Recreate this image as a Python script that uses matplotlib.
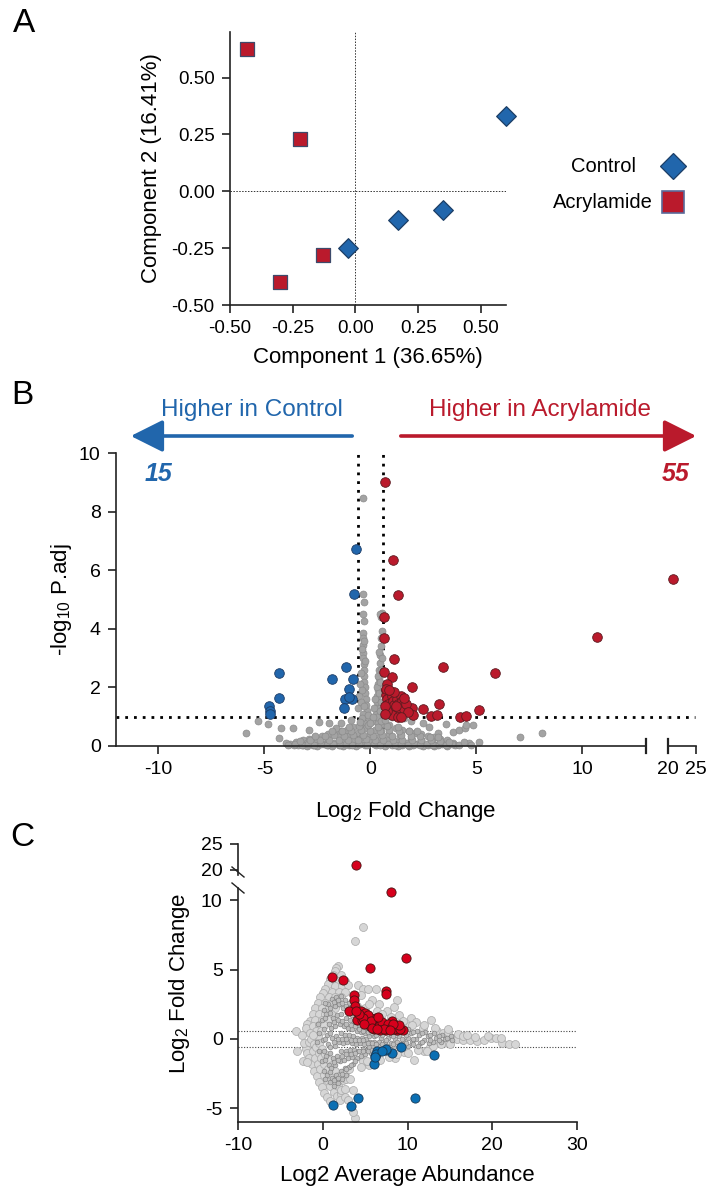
# PCA, volcano and MA plot (acrylamide vs control)
import matplotlib
matplotlib.use('Agg')
import matplotlib.pyplot as plt
from matplotlib.patches import FancyArrowPatch
from matplotlib.lines import Line2D

plt.rcParams['font.family'] = ['Liberation Sans', 'DejaVu Sans']
plt.rcParams['mathtext.fontset'] = 'custom'
plt.rcParams['mathtext.rm'] = 'Liberation Sans'
plt.rcParams['mathtext.it'] = 'Liberation Sans:italic'
plt.rcParams['axes.unicode_minus'] = False

# ---- panel A : PCA scores ----
control_pc1 = [0.60, 0.348, 0.17, -0.031]
control_pc2 = [0.331, -0.081, -0.125, -0.25]
acryl_pc1 = [-0.431, -0.221, -0.130, -0.30]
acryl_pc2 = [0.625, 0.228, -0.279, -0.40]
pca_ticks = [-0.50, -0.25, 0.00, 0.25, 0.50]

# ---- panel B : volcano (log2 FC, -log10 p.adj) ----
volc_up = [(0.71, 9.0), (1.05, 6.35), (1.29, 5.17), (0.66, 4.41), (0.65, 3.69), (1.13, 2.97),
           (3.41, 2.69), (0.65, 2.51), (1.0, 2.35), (1.95, 2.03), (0.74, 1.92), (1.95, 1.29),
           (2.47, 1.26), (3.25, 1.44), (2.86, 1.03), (3.13, 1.06), (2.0, 1.06), (4.23, 1.0),
           (4.51, 1.03), (5.1, 1.23), (5.88, 2.49), (10.7, 3.73), (20.9, 5.7),
           (0.75, 1.75), (0.8, 1.6), (0.85, 1.45), (0.9, 1.3), (0.95, 1.15), (1.0, 1.7),
           (1.05, 1.55), (1.1, 1.4), (1.15, 1.25), (1.2, 1.1), (1.25, 1.6), (1.3, 1.45),
           (1.35, 1.3), (1.4, 1.15), (1.45, 1.7), (1.5, 1.55), (1.55, 1.4), (1.6, 1.25),
           (1.0, 1.05), (0.78, 2.1), (0.72, 1.95), (0.8, 1.2), (1.7, 1.45), (1.75, 1.15),
           (1.1, 1.85), (0.7, 1.35), (0.68, 1.1), (1.3, 1.0), (1.6, 1.65), (0.9, 1.9),
           (1.2, 1.35), (1.45, 1.0)]
volc_down = [(-0.68, 6.71), (-0.79, 5.19), (-4.29, 2.49), (-4.29, 1.63), (-4.8, 1.36),
             (-4.75, 1.18), (-4.75, 1.08), (-1.81, 2.29), (-1.15, 2.69), (-0.83, 2.29),
             (-1.02, 1.94), (-1.18, 1.61), (-0.86, 1.61), (-1.23, 1.29), (-1.0, 1.66)]
volc_ns = [(-0.36, 8.48), (-0.36, 5.19), (-0.32, 4.91), (-0.34, 4.5), (-0.32, 4.26), (0.53, 4.54),
           (0.50, 4.40), (0.45, 4.5), (-0.33, 3.87), (-0.33, 3.69), (-0.33, 3.46), (-0.34, 3.17),
           (-0.35, 3.0), (-0.30, 2.8), (-0.32, 2.6), (-0.28, 2.4), (-0.30, 2.2), (-0.26, 2.0),
           (-0.25, 1.8), (-0.2, 1.6), (-0.22, 1.4), (-0.18, 1.2), (-0.15, 1.0), (0.53, 3.92),
           (0.5, 3.7), (0.48, 3.4), (0.46, 3.1), (0.46, 2.83), (0.42, 2.6), (0.42, 2.32),
           (0.38, 2.1), (0.36, 1.9), (0.33, 1.7), (0.3, 1.5), (0.28, 1.3), (0.25, 1.1), (0.2, 0.95),
           (-0.1, 0.9), (0.1, 0.85), (-0.3, 0.8), (0.35, 0.8), (-0.5, 0.7), (0.6, 0.75), (-0.8, 0.65),
           (0.9, 0.7), (-1.1, 0.55), (1.2, 0.6), (-1.4, 0.5), (1.5, 0.55), (-1.7, 0.45), (1.8, 0.5),
           (-2.0, 0.4), (2.1, 0.45), (-2.3, 0.35), (2.4, 0.4), (-2.6, 0.3), (2.7, 0.35), (-2.9, 0.25),
           (3.0, 0.3), (-3.2, 0.2), (3.3, 0.25), (-3.5, 0.15), (3.6, 0.2), (-3.8, 0.08), (3.9, 0.1),
           (-0.2, 0.6), (0.2, 0.55), (-0.6, 0.45), (0.5, 0.5), (-1.0, 0.35), (0.9, 0.4), (-1.5, 0.3),
           (1.4, 0.35), (-2.0, 0.2), (1.9, 0.25), (-2.5, 0.15), (2.4, 0.2), (-3.0, 0.1), (2.9, 0.12),
           (-3.4, 0.05), (3.4, 0.06), (0.0, 0.4), (-0.4, 0.3), (0.4, 0.3), (-0.8, 0.2), (0.8, 0.2),
           (-1.2, 0.15), (1.2, 0.15), (-1.7, 0.1), (1.7, 0.1), (-2.2, 0.06), (2.2, 0.06),
           (-2.7, 0.04), (2.7, 0.04), (-3.2, 0.02), (3.2, 0.02), (0.0, 0.15), (-0.5, 0.08),
           (0.5, 0.08), (-1.0, 0.05), (1.0, 0.05), (-1.5, 0.03), (1.5, 0.03), (-2.0, 0.02),
           (2.0, 0.02), (-0.25, 0.02), (0.25, 0.02), (0.7, 0.01), (-0.7, 0.01), (1.3, 0.0),
           (-1.3, 0.0), (1.8, 0.0), (-1.8, 0.0), (2.5, 0.0), (-2.5, 0.0), (3.0, 0.0), (-3.0, 0.0),
           (3.6, 0.0), (-3.6, 0.02), (4.0, 0.05), (-5.86, 0.45), (-5.3, 0.86), (-4.84, 0.75),
           (-4.21, 0.62), (-4.29, 0.28), (-3.66, 0.6), (-2.9, 0.56), (-2.42, 0.81), (-1.97, 0.79),
           (-1.6, 0.62), (-1.38, 0.78), (-4.0, 0.1), (2.78, 0.66), (3.2, 0.45), (3.57, 0.75),
           (3.88, 0.49), (4.2, 0.55), (4.48, 0.6), (4.51, 0.7), (4.85, 0.72), (4.67, 0.1),
           (4.75, 0.05), (5.14, 0.12), (7.08, 0.3), (8.08, 0.46), (2.5, 0.8), (1.9, 0.85),
           (1.6, 0.95), (1.0, 0.98), (-0.9, 0.9),
           # arms of the central column
           (-0.45, 2.5), (-0.5, 2.1), (-0.55, 1.7), (-0.6, 1.3), (-0.4, 1.9), (-0.45, 1.5),
           (-0.35, 1.1), (-0.3, 1.35), (-0.4, 0.95), (-0.12, 1.05), (-0.25, 2.9), (-0.4, 3.3),
           (-0.28, 3.6), (0.35, 2.4), (0.3, 2.0), (0.22, 1.6), (0.18, 1.3), (0.4, 1.8), (0.45, 2.2),
           (0.5, 2.6), (0.55, 3.0), (0.5, 1.5), (0.45, 1.2), (0.4, 3.2), (0.3, 1.0), (0.1, 1.0),
           # dense base of the cloud
           (-3.9, 0.04), (-3.55, 0.07), (-3.25, 0.05), (-2.95, 0.06), (-2.65, 0.05), (-2.35, 0.07),
           (-2.05, 0.05), (-1.75, 0.06), (-1.45, 0.05), (-1.15, 0.07), (-0.85, 0.05), (-0.55, 0.06),
           (-0.15, 0.05), (0.15, 0.07), (0.45, 0.05), (0.85, 0.06), (1.15, 0.05), (1.45, 0.07),
           (1.75, 0.05), (2.05, 0.06), (2.35, 0.05), (2.65, 0.07), (2.95, 0.05), (3.25, 0.06),
           (3.55, 0.05), (3.85, 0.07), (4.2, 0.04), (4.4, 0.12),
           (-3.3, 0.18), (-2.85, 0.2), (-2.4, 0.22), (-1.95, 0.19), (-1.5, 0.2), (-1.05, 0.22),
           (-0.6, 0.2), (-0.2, 0.23), (0.2, 0.2), (0.6, 0.22), (1.05, 0.2), (1.5, 0.22),
           (1.95, 0.19), (2.4, 0.21), (2.85, 0.2), (3.3, 0.18), (3.7, 0.15),
           (-2.6, 0.34), (-2.15, 0.33), (-1.7, 0.36), (-1.25, 0.34), (-0.8, 0.36), (-0.35, 0.38),
           (0.1, 0.35), (0.55, 0.37), (1.0, 0.34), (1.45, 0.36), (1.9, 0.33), (2.35, 0.35),
           (2.8, 0.32), (3.2, 0.3),
           (-1.8, 0.5), (-1.35, 0.52), (-0.9, 0.5), (-0.45, 0.54), (0.0, 0.52), (0.45, 0.5),
           (0.9, 0.53), (1.35, 0.5), (1.8, 0.52), (2.2, 0.5),
           (-1.0, 0.66), (-0.55, 0.68), (-0.1, 0.7), (0.35, 0.66), (0.8, 0.68), (1.3, 0.66),
           (-0.5, 0.82), (0.0, 0.8), (0.5, 0.84), (0.7, 0.9)]
fc_cut = 0.585
p_cut = 1.0

# ---- panel C : MA plot (log2 abundance, log2 FC) ----
ma_up = [(3.95, 20.9), (8.05, 10.64), (9.79, 5.88), (5.53, 5.12), (1.1, 4.47), (2.41, 4.23),
         (7.5, 3.43), (7.45, 3.28), (3.67, 3.19), (3.67, 2.83), (3.79, 2.4), (3.08, 2.04),
         (4.54, 1.99), (4.07, 1.39), (4.66, 1.39), (5.45, 1.58), (6.24, 1.51), (6.43, 1.27),
         (5.57, 0.96), (6.04, 0.72), (6.75, 0.79), (7.5, 0.67), (8.21, 1.27), (8.6, 1.03),
         (8.8, 0.67), (9.51, 0.67), (7.81, 0.91), (6.83, 1.1), (7.3, 0.96), (6.24, 1.34),
         (5.96, 1.44), (5.0, 1.9), (5.3, 1.7), (5.9, 1.2), (6.1, 0.95), (6.6, 0.9), (7.0, 1.2),
         (7.7, 1.1), (8.0, 0.8), (8.4, 0.7), (9.1, 0.7), (9.0, 1.0), (5.2, 1.2), (4.8, 1.5),
         (6.8, 0.65), (7.2, 0.7), (5.7, 1.3), (4.3, 1.8), (3.9, 2.0), (6.5, 1.6), (8.3, 1.1),
         (4.9, 1.1), (5.8, 0.8), (6.4, 0.7), (7.9, 0.65)]
ma_down = [(1.19, -4.76), (3.28, -4.81), (4.15, -4.3), (10.85, -4.26), (13.14, -1.13),
           (9.27, -0.6), (8.21, -1.01), (7.42, -0.77), (6.43, -0.89), (6.12, -1.2), (6.04, -1.78),
           (6.3, -1.1), (7.46, -0.7), (6.2, -1.3), (7.0, -0.85)]
ma_ns = [(1.8, 5.3), (1.6, 5.1), (1.4, 4.9), (1.2, 4.6), (0.9, 4.3), (0.6, 4.0), (0.3, 3.6),
         (0.0, 3.3), (-0.3, 3.0), (-0.6, 2.6), (-0.9, 2.2), (-1.2, 1.8), (-1.5, 1.3), (-1.8, 1.1),
         (-2.0, 0.8), (2.2, 4.6), (1.9, 4.2), (1.5, 3.8), (1.1, 3.4), (0.7, 3.0), (0.3, 2.6),
         (-0.1, 2.2), (-0.5, 1.8), (-0.9, 1.4), (-1.2, 0.9), (-2.0, -0.7), (-1.8, -1.0),
         (-1.6, -1.4), (-1.3, -1.8), (-1.0, -2.3), (-0.7, -2.7), (-0.4, -3.1), (-0.1, -3.5),
         (0.2, -3.9), (0.5, -4.2), (0.8, -4.5), (-1.2, -0.9), (-0.9, -1.4), (-0.6, -1.8),
         (-0.3, -2.2), (0.1, -2.6), (0.5, -3.0), (0.9, -3.4), (1.3, -3.8), (1.7, -4.1), (2.1, -4.0),
         (-3.2, 0.55), (-3.0, -0.85), (-2.2, -0.3), (-2.3, -1.6), (-1.9, -1.7), (-2.4, 0.3),
         (2.4, -3.0), (2.8, -2.9), (3.2, -2.9), (3.6, -3.7), (3.8, -5.7), (3.6, -5.3), (2.0, -4.4),
         (2.6, -4.2), (3.0, -4.4), (4.8, 8.1), (3.8, 7.1), (4.2, 3.9), (4.8, 3.6), (5.3, 3.6),
         (6.3, 3.6), (4.5, 3.2), (5.8, 2.8), (8.8, 2.8), (6.6, 2.5), (7.6, 2.0), (8.4, 2.3),
         (9.0, 1.7), (10.4, 1.5), (11.0, 1.2), (12.75, 1.39), (10.2, 0.9), (11.8, 0.8),
         (4.8, -1.6), (5.5, -1.9), (6.7, -1.5), (8.5, -1.4), (9.6, -0.95), (10.77, -1.49),
         (11.9, -0.9), (12.6, -0.6), (13.5, 0.6), (14.2, 0.45), (14.8, 0.5), (15.2, 0.1),
         (15.8, 0.0), (16.5, -0.05), (17.4, -0.1), (18.2, -0.12), (19.0, -0.05), (19.8, 0.05),
         (20.5, 0.05), (21.2, -0.3), (22.0, -0.35), (22.7, -0.35), (14.5, -0.25), (13.8, -0.3),
         (16.0, 0.35),
         (2.6, 4.2), (2.3, 3.8), (1.9, 3.4), (1.5, 3.0), (1.1, 2.6), (0.7, 2.2), (0.3, 1.8),
         (-0.1, 1.4), (-0.5, 1.0), (-0.8, 0.6), (3.0, 3.9), (2.6, 3.4), (2.2, 3.0), (1.8, 2.6),
         (1.4, 2.2), (1.0, 1.8), (0.6, 1.4), (0.2, 1.0), (-0.2, 0.6), (-0.6, 0.2),
         (-1.5, 0.4), (-1.6, -0.2), (-1.4, 0.0), (-1.1, 0.3), (-1.0, -0.4),
         (-0.8, -0.6), (-0.5, -1.0), (-0.2, -1.4), (0.2, -1.8), (0.6, -2.2), (1.0, -2.6),
         (1.4, -3.0), (1.8, -3.4), (2.2, -3.7), (2.6, -3.6), (-0.4, -0.3), (-0.1, -0.7),
         (0.3, -1.1), (0.7, -1.5), (1.1, -1.9), (1.5, -2.3), (1.9, -2.7), (2.3, -2.6), (2.7, -2.3),
         (3.1, -2.2), (3.5, 2.6), (4.0, 2.4), (5.0, 2.2), (5.5, 2.5), (6.4, 2.0), (7.0, 1.8),
         (8.0, 1.6), (9.5, 1.3), (10.5, 1.0), (12.0, 1.0), (13.3, 0.8), (4.5, -2.0), (5.2, -1.6),
         (7.8, -1.3), (8.8, -1.1), (10.0, -1.0), (11.2, -0.8), (13.0, -0.5), (14.0, -0.4),
         (15.0, -0.35), (16.5, 0.2), (17.0, 0.25), (18.0, 0.15), (19.5, 0.2), (21.0, 0.1),
         (14.8, 0.7), (12.3, -0.9)]
# dense core of the MA cloud (small markers)
ma_core = [(-0.6, 1.1), (-0.4, 0.4), (-0.7, -0.2), (-0.5, -0.9),
           (0.1, 2.1), (-0.1, 1.4), (0.2, 0.7), (0.0, -0.1), (0.1, -0.9), (-0.1, -1.6), (0.2, -2.3),
           (0.6, 2.5), (0.4, 1.8), (0.7, 1.1), (0.5, 0.3), (0.6, -0.4), (0.4, -1.2), (0.7, -1.9),
           (0.5, -2.6), (0.8, -3.1), (1.1, 2.9), (0.9, 2.2), (1.2, 1.5), (1.0, 0.8), (1.1, 0.1),
           (0.9, -0.6), (1.2, -1.4), (1.0, -2.1), (1.1, -2.8), (1.3, -3.4), (1.6, 3.0), (1.4, 2.4),
           (1.7, 1.7), (1.5, 0.9), (1.6, 0.2), (1.4, -0.5), (1.7, -1.2), (1.5, -1.9), (1.6, -2.6),
           (1.8, -3.2), (2.1, 3.1), (1.9, 2.5), (2.2, 1.8), (2.0, 1.1), (2.1, 0.4), (1.9, -0.2),
           (2.2, -0.9), (2.0, -1.6), (2.1, -2.3), (2.3, -2.9), (2.6, 2.8), (2.4, 2.2), (2.7, 1.5),
           (2.5, 0.9), (2.6, 0.3), (2.4, -0.3), (2.7, -0.9), (2.5, -1.5), (2.6, -2.1), (2.8, -2.6),
           (3.1, 2.6), (2.9, 2.0), (3.2, 1.4), (3.0, 0.8), (3.1, 0.3), (2.9, -0.2), (3.2, -0.8),
           (3.0, -1.4), (3.1, -2.0), (3.6, 2.3), (3.4, 1.7), (3.7, 1.2), (3.5, 0.7), (3.6, 0.2),
           (3.4, -0.3), (3.7, -0.8), (3.5, -1.3), (3.6, -1.8), (4.1, 2.0), (3.9, 1.5), (4.2, 1.0),
           (4.0, 0.6), (4.1, 0.1), (3.9, -0.4), (4.2, -0.9), (4.0, -1.4), (4.6, 1.8), (4.4, 1.3),
           (4.7, 0.9), (4.5, 0.5), (4.6, 0.1), (4.4, -0.3), (4.7, -0.7), (4.5, -1.2), (5.1, 1.6),
           (4.9, 1.2), (5.2, 0.8), (5.0, 0.4), (5.1, 0.0), (4.9, -0.4), (5.2, -0.8), (5.0, -1.1),
           (5.6, 1.4), (5.4, 1.0), (5.7, 0.6), (5.5, 0.2), (5.6, -0.2), (5.4, -0.6), (5.7, -1.0),
           (6.1, 1.2), (5.9, 0.9), (6.2, 0.5), (6.0, 0.2), (6.1, -0.2), (5.9, -0.5), (6.2, -0.9),
           (6.6, 1.1), (6.8, 0.7), (6.5, 0.4), (6.9, 0.1), (6.6, -0.2), (6.8, -0.5), (6.5, -0.8),
           (7.3, 1.0), (7.6, 0.7), (7.2, 0.4), (7.7, 0.1), (7.3, -0.2), (7.6, -0.5), (7.2, -0.8),
           (8.1, 0.9), (8.4, 0.6), (8.0, 0.3), (8.5, 0.0), (8.1, -0.3), (8.4, -0.6), (9.1, 0.8),
           (9.4, 0.5), (9.0, 0.2), (9.5, -0.1), (9.1, -0.4), (9.4, -0.6), (10.1, 0.7), (10.4, 0.4),
           (10.0, 0.1), (10.5, -0.2), (10.1, -0.5), (11.1, 0.6), (11.4, 0.3), (11.0, 0.0),
           (11.5, -0.3), (11.2, -0.5), (12.1, 0.5), (12.4, 0.2), (12.0, -0.1), (12.5, -0.3),
           (13.1, 0.4), (13.4, 0.1), (13.0, -0.2), (14.1, 0.3), (14.4, 0.0), (14.0, -0.2),
           (15.1, 0.2), (15.3, -0.1),
           (0.3, 2.6), (0.3, 1.5), (0.3, 0.0), (0.3, -1.5), (0.3, -2.9), (0.8, 1.9), (0.8, 0.4),
           (0.8, -1.0), (0.8, -2.4), (1.3, 2.7), (1.3, 1.2), (1.3, -0.2), (1.3, -1.7), (1.3, -3.0),
           (1.8, 2.8), (1.8, 1.4), (1.8, 0.0), (1.8, -1.5), (1.8, -2.8), (2.3, 2.6), (2.3, 1.3),
           (2.3, 0.0), (2.3, -1.2), (2.3, -2.5), (2.8, 2.4), (2.8, 1.1), (2.8, 0.0), (2.8, -1.1),
           (2.8, -2.2), (3.3, 2.2), (3.3, 1.0), (3.3, -0.1), (3.3, -1.1), (3.3, -1.9), (3.8, 1.9),
           (3.8, 0.9), (3.8, -0.1), (3.8, -1.0), (3.8, -1.6), (4.3, 1.6), (4.3, 0.7), (4.3, -0.1),
           (4.3, -0.9), (4.8, 1.4), (4.8, 0.6), (4.8, -0.1), (4.8, -0.9), (5.3, 1.2), (5.3, 0.5),
           (5.3, -0.3), (5.3, -0.9), (5.8, 1.1), (5.8, 0.4), (5.8, -0.3), (5.8, -0.8), (6.3, 1.0),
           (6.3, 0.3), (6.3, -0.4), (6.3, -0.7), (7.0, 0.9), (7.0, 0.3), (7.0, -0.4), (7.5, 0.5),
           (7.5, -0.1), (7.5, -0.7), (8.3, 0.8), (8.3, 0.2), (8.3, -0.4), (8.8, 0.4), (8.8, -0.2),
           (9.3, 0.6), (9.3, 0.0), (9.3, -0.5), (9.8, 0.3), (9.8, -0.3), (10.7, 0.5), (10.7, 0.0),
           (10.7, -0.4), (11.7, 0.4), (11.7, -0.2), (12.7, 0.3), (12.7, -0.1), (13.7, 0.2),
           (13.7, -0.1), (14.7, 0.1)]

BLUE = '#2166AC'
RED = '#BA1A2C'
C_RED = '#D6001C'
C_BLUE = '#0B6FB3'

W, H = 709, 1192
fig = plt.figure(figsize=(W / 100, H / 100), dpi=100)


def box(l, t, r, b):
    return [l / W, 1 - b / H, (r - l) / W, (b - t) / H]


def ftext(x, y, s, **kw):
    kw.setdefault('ha', 'center')
    kw.setdefault('va', 'center')
    fig.text(x / W, 1 - y / H, s, **kw)


def style(ax, size=14):
    for side in ['top', 'right']:
        ax.spines[side].set_visible(False)
    for side in ['left', 'bottom']:
        ax.spines[side].set_linewidth(1.2)
        ax.spines[side].set_color('#222222')
    ax.tick_params(length=6, width=1.2, color='#222222', labelsize=size, pad=5)


def xy(pts):
    return [p[0] for p in pts], [p[1] for p in pts]


# ================= A =================
axA = fig.add_axes(box(230, 32, 506, 305))
style(axA, 13.5)
axA.set_xlim(-0.5, 0.6)
axA.set_ylim(-0.5, 0.7)
axA.set_xticks(pca_ticks)
axA.set_yticks(pca_ticks)
axA.set_xticklabels(['%.2f' % t for t in pca_ticks])
axA.set_yticklabels(['%.2f' % t for t in pca_ticks])
axA.axhline(0, color='#333333', lw=0.7, ls=(0, (1.5, 1.5)))
axA.axvline(0, color='#333333', lw=0.7, ls=(0, (1.5, 1.5)))
axA.scatter(acryl_pc1, acryl_pc2, marker='s', s=94, c=RED, edgecolors='#3d4a6b',
            linewidths=0.9, zorder=3, clip_on=False)
axA.scatter(control_pc1, control_pc2, marker='D', s=100, c=BLUE, edgecolors='#1c3e66',
            linewidths=0.9, zorder=3, clip_on=False)
ftext(368, 357, 'Component 1 (36.65%)', fontsize=16)
ftext(152, 168, 'Component 2 (16.41%)', fontsize=16, rotation=90)

ftext(603, 166, 'Control', fontsize=14.5)
ftext(603, 202, 'Acrylamide', fontsize=14.5)
fig.add_artist(Line2D([673 / W], [1 - 166 / H], marker='D', ms=13, mfc=BLUE, mec='#1c3e66',
                      mew=0.9, transform=fig.transFigure))
fig.add_artist(Line2D([673 / W], [1 - 202 / H], marker='s', ms=16, mfc=RED, mec='#5a6a9a',
                      mew=1.2, transform=fig.transFigure))
ftext(24, 24, 'A', fontsize=24)

# ================= B =================
axB1 = fig.add_axes(box(116, 453, 646, 746))
axB2 = fig.add_axes(box(668, 453, 696, 746))
for ax in (axB1, axB2):
    style(ax)
    ax.set_ylim(0, 10)
axB1.set_xlim(-12, 13)
axB2.set_xlim(20, 25)
axB1.set_xticks([-10, -5, 0, 5, 10])
axB1.set_yticks([0, 2, 4, 6, 8, 10])
axB2.set_xticks([20, 25])
axB2.spines['left'].set_visible(False)
axB2.set_yticks([])

dots = (0, (1, 2.15))
axB1.vlines([-fc_cut, fc_cut], 0, 10, colors='black', lw=2.0, linestyles=dots)
axB1.plot([-12, 14.05], [p_cut, p_cut], color='black', lw=2.0, ls=dots, clip_on=False)
axB2.plot([20, 24.8], [p_cut, p_cut], color='black', lw=2.0, ls=dots, clip_on=False)

# break bars
axB1.plot([1, 1], [-0.025, 0.025], transform=axB1.transAxes, color='#222222', lw=1.6,
          clip_on=False)
axB2.plot([0, 0], [-0.025, 0.025], transform=axB2.transAxes, color='#222222', lw=1.6,
          clip_on=False)

for ax, lo, hi in ((axB1, -12, 13), (axB2, 20, 25)):
    gx, gy = xy([p for p in volc_ns if lo <= p[0] <= hi])
    ax.scatter(gx, gy, s=25, c='#a3a3a3', edgecolors='#8c8c8c', linewidths=0.5,
               zorder=2, clip_on=False)
    bx, by = xy([p for p in volc_down if lo <= p[0] <= hi])
    ax.scatter(bx, by, s=48, c=BLUE, edgecolors='#1d3c66', linewidths=0.6, zorder=3,
               clip_on=False)
    rx, ry = xy([p for p in volc_up if lo <= p[0] <= hi])
    ax.scatter(rx, ry, s=48, c=RED, edgecolors='#5b1a20', linewidths=0.6, zorder=3,
               clip_on=False)

ftext(62, 600, '-log$_{10}$ P.adj', fontsize=16, rotation=90)
ftext(406, 811, 'Log$_2$ Fold Change', fontsize=16)
ftext(252, 410, 'Higher in Control', fontsize=17.5, color=BLUE)
ftext(540, 410, 'Higher in Acrylamide', fontsize=17.5, color=RED)
fig.add_artist(FancyArrowPatch((355 / W, 1 - 436 / H), (128 / W, 1 - 436 / H),
                               transform=fig.transFigure, arrowstyle='-|>,head_length=0.9,head_width=0.45',
                               mutation_scale=22, lw=2.6, color=BLUE))
fig.add_artist(FancyArrowPatch((398 / W, 1 - 436 / H), (699 / W, 1 - 436 / H),
                               transform=fig.transFigure, arrowstyle='-|>,head_length=0.9,head_width=0.45',
                               mutation_scale=22, lw=2.6, color=RED))
ftext(158, 474, str(len(volc_down)), fontsize=18, color=BLUE, fontweight='bold',
      fontstyle='italic')
ftext(676, 474, str(len(volc_up)), fontsize=18, color=RED, fontweight='bold',
      fontstyle='italic')
ftext(22, 395, 'B', fontsize=24)

# ================= C =================
axC1 = fig.add_axes(box(238, 888, 577, 1122))
axC2 = fig.add_axes(box(238, 844, 577, 875))
for ax in (axC1, axC2):
    style(ax)
    ax.set_xlim(-10, 30)
axC1.set_ylim(-6, 10.9)
axC2.set_ylim(19, 25)
axC1.set_xticks([-10, 0, 10, 20, 30])
axC1.set_yticks([-5, 0, 5, 10])
axC2.set_yticks([20, 25])
axC2.spines['bottom'].set_visible(False)
axC2.set_xticks([])
axC2.patch.set_alpha(0)

axC1.hlines([fc_cut, -fc_cut], -10, 30, colors='#444444', lw=0.8, linestyles=(0, (1, 1.5)))

for ax, lo, hi in ((axC1, -6, 10.9), (axC2, 19, 25)):
    gx, gy = xy([p for p in ma_ns if lo <= p[1] <= hi])
    ax.scatter(gx, gy, s=33, c='#d6d6d6', edgecolors='#a8a8a8', linewidths=0.5, zorder=2,
               clip_on=False)
    kx, ky = xy([p for p in ma_core if lo <= p[1] <= hi])
    ax.scatter(kx, ky, s=12, c='#bdbdbd', edgecolors='#777777', linewidths=0.4, zorder=2.5)
    bx, by = xy([p for p in ma_down if lo <= p[1] <= hi])
    ax.scatter(bx, by, s=44, c=C_BLUE, edgecolors='#163a58', linewidths=0.6, zorder=3,
               clip_on=False)
    rx, ry = xy([p for p in ma_up if lo <= p[1] <= hi])
    ax.scatter(rx, ry, s=44, c=C_RED, edgecolors='#4a1212', linewidths=0.6, zorder=3,
               clip_on=False)

# axis break marks
for yb in (872, 888):
    fig.add_artist(Line2D([232 / W, 244 / W], [1 - (yb - 5) / H, 1 - (yb + 5) / H],
                          color='#222222', lw=1.0, transform=fig.transFigure))

ftext(180, 983, 'Log$_2$ Fold Change', fontsize=16, rotation=90)
ftext(407, 1176, 'Log2 Average Abundance', fontsize=16)
ftext(22, 838, 'C', fontsize=24)

fig.savefig('out.png', dpi=100)
